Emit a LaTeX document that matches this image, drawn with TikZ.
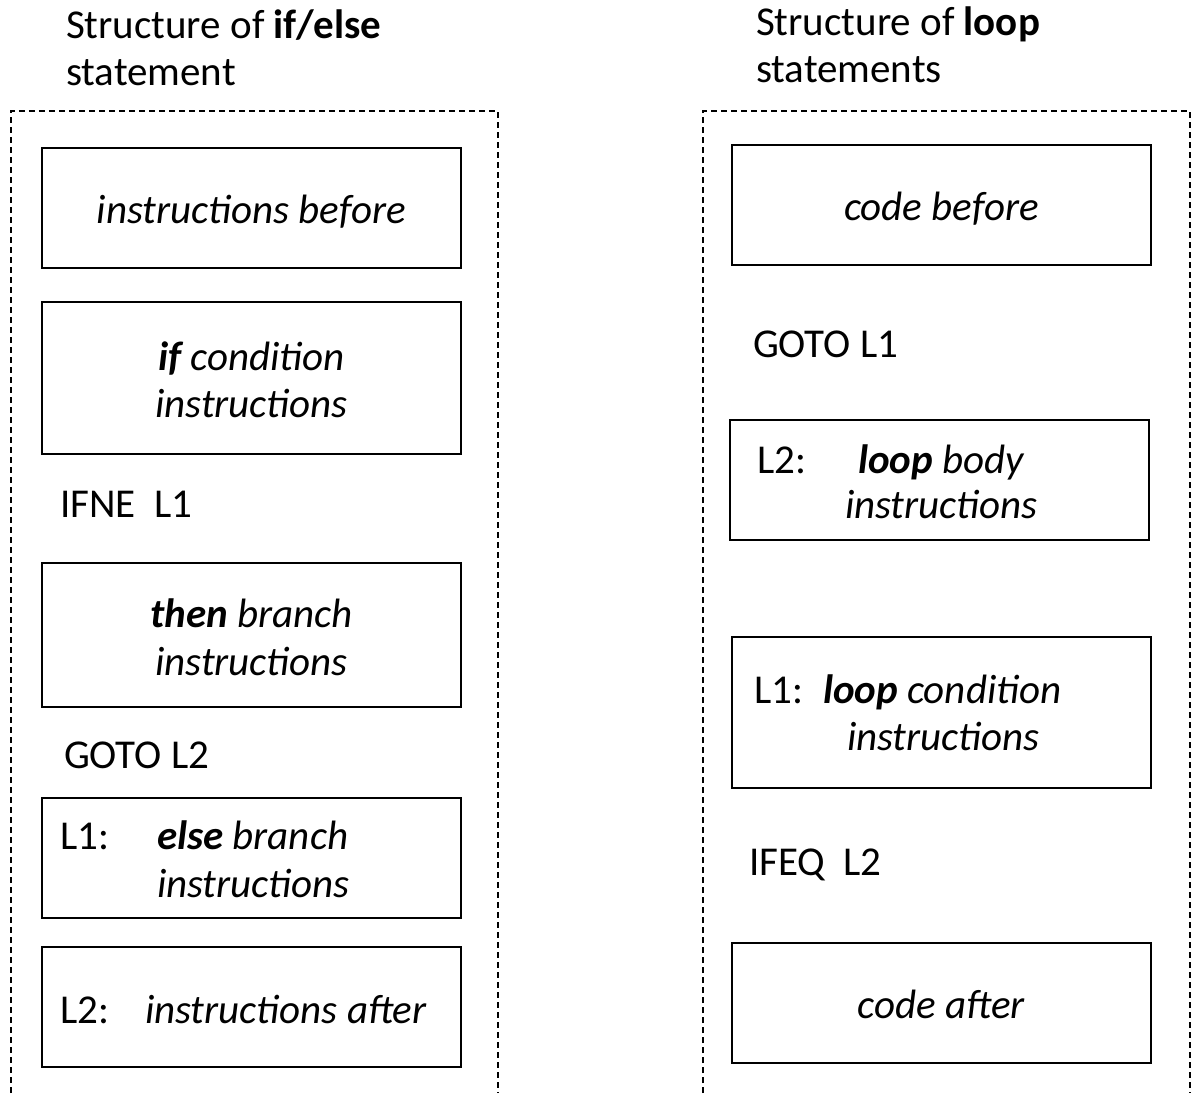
\documentclass[tikz,border=0pt]{standalone}
\usepackage{fontspec}
\setmainfont{Carlito}
\begin{document}
\begin{tikzpicture}[x=1pt,y=-1pt,
  every node/.style={inner sep=0pt, outer sep=0pt},
  txt/.style={font=\fontsize{41}{48}\selectfont},
  ttl/.style={font=\fontsize{41}{48}\selectfont, anchor=base west},
  lbl/.style={txt, anchor=base west},
  ctr/.style={txt, anchor=base},
  frame/.style={draw, line width=1.3pt, dash pattern=on 6pt off 4pt},
  codebox/.style={draw, line width=1.6pt, anchor=north west, minimum width=419pt}]
\useasboundingbox (0,0) rectangle (1193,1093);

% ---- if/else column ----
\node[ttl] (ta1) at (66,38) {Structure of \textbf{if/else}};
\node[ttl] (ta2) at (66,85) {statement};
\coordinate (fa1) at (11,1093);
\coordinate (fa2) at (498,1093);
\draw[frame] (fa1) |- (498,111) -- (fa2);

\node[codebox, minimum height=120pt] (a1) at (42,148) {};
\node[ctr] (a1t) at (251.5,223) {\textit{instructions before}};

\node[codebox, minimum height=152pt] (a2) at (42,302) {};
\node[ctr] (a2t) at (251.5,370) {\textit{\textbf{if} condition}};
\node[ctr] (a2u) at (251.5,417) {\textit{instructions}};

\node[lbl] (ifne) at (60,517) {IFNE\hspace{0.45em}L1};

\node[codebox, minimum height=144pt] (a3) at (42,563) {};
\node[ctr] (a3t) at (251.5,627) {\textit{\textbf{then} branch}};
\node[ctr] (a3u) at (251.5,675) {\textit{instructions}};

\node[lbl] (gotoa) at (64,768) {GOTO L2};

\node[codebox, minimum height=120pt] (a4) at (42,798) {};
\node[lbl] (a4l) at (60,849) {L1:};
\node[lbl] (a4t) at (157,849) {\textit{\textbf{else} branch}};
\node[lbl] (a4u) at (157,897) {\textit{instructions}};

\node[codebox, minimum height=120pt] (a5) at (42,947) {};
\node[lbl] (a5l) at (60,1023) {L2:};
\node[lbl] (a5t) at (145,1023) {\textit{instructions after}};

% ---- loop column ----
\node[ttl] (tb1) at (756,35) {Structure of \textbf{loop}};
\node[ttl] (tb2) at (756,82) {statements};
\coordinate (fb1) at (703,1093);
\coordinate (fb2) at (1190,1093);
\draw[frame] (fb1) |- (1190,111) -- (fb2);

\node[codebox, minimum height=120pt] (b1) at (732,145) {};
\node[ctr] (b1t) at (941.5,220) {\textit{code before}};

\node[lbl] (gotob) at (753,357) {GOTO L1};

\node[codebox, minimum height=120pt] (b2) at (730,420) {};
\node[lbl] (b2l) at (757,473) {L2:};
\node[lbl] (b2t) at (858,473) {\textit{\textbf{loop} body}};
\node[lbl] (b2u) at (845,518) {\textit{instructions}};

\node[codebox, minimum height=151pt] (b3) at (732,637) {};
\node[lbl] (b3l) at (754,703) {L1:};
\node[lbl] (b3t) at (823,703) {\textit{\textbf{loop} condition}};
\node[lbl] (b3u) at (847,750) {\textit{instructions}};

\node[lbl] (ifeq) at (749,875) {IFEQ\hspace{0.45em}L2};

\node[codebox, minimum height=120pt] (b4) at (732,943) {};
\node[ctr] (b4t) at (941.5,1018) {\textit{code after}};
\end{tikzpicture}
\end{document}
